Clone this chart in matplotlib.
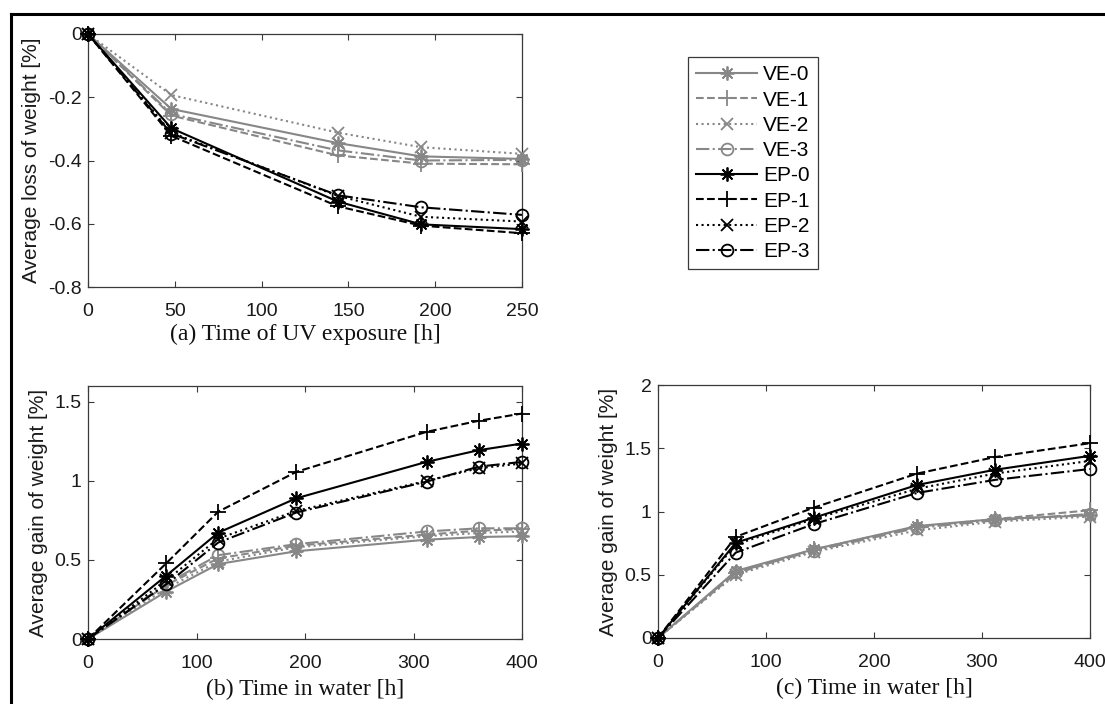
import matplotlib
matplotlib.use('Agg')
import matplotlib.pyplot as plt
from matplotlib.lines import Line2D
from matplotlib.ticker import FormatStrFormatter

plt.rcParams['font.family'] = ['Liberation Sans', 'DejaVu Sans']
plt.rcParams['axes.unicode_minus'] = False

names = ['VE-0', 'VE-1', 'VE-2', 'VE-3', 'EP-0', 'EP-1', 'EP-2', 'EP-3']

# (a) UV exposure
t_uv = [0, 48, 144, 192, 250]
loss_uv = {
    'VE-0': [0, -0.237, -0.345, -0.387, -0.395],
    'VE-1': [0, -0.258, -0.384, -0.410, -0.412],
    'VE-2': [0, -0.193, -0.312, -0.358, -0.379],
    'VE-3': [0, -0.253, -0.368, -0.400, -0.398],
    'EP-0': [0, -0.298, -0.530, -0.602, -0.617],
    'EP-1': [0, -0.322, -0.545, -0.606, -0.630],
    'EP-2': [0, -0.312, -0.512, -0.578, -0.593],
    'EP-3': [0, -0.315, -0.510, -0.548, -0.572],
}

# (b) water
t_b = [0, 72, 120, 192, 312, 360, 400]
gain_b = {
    'VE-0': [0, 0.30, 0.474, 0.555, 0.628, 0.645, 0.650],
    'VE-1': [0, 0.34, 0.51, 0.59, 0.66, 0.685, 0.695],
    'VE-2': [0, 0.32, 0.49, 0.58, 0.65, 0.67, 0.68],
    'VE-3': [0, 0.35, 0.53, 0.60, 0.68, 0.70, 0.70],
    'EP-0': [0, 0.40, 0.672, 0.89, 1.12, 1.194, 1.236],
    'EP-1': [0, 0.478, 0.805, 1.057, 1.31, 1.38, 1.426],
    'EP-2': [0, 0.37, 0.635, 0.81, 1.00, 1.08, 1.11],
    'EP-3': [0, 0.345, 0.61, 0.80, 0.995, 1.09, 1.12],
}

# (c) water
t_c = [0, 72, 144, 240, 312, 400]
gain_c = {
    'VE-0': [0, 0.53, 0.70, 0.885, 0.94, 0.97],
    'VE-1': [0, 0.51, 0.70, 0.88, 0.94, 1.01],
    'VE-2': [0, 0.50, 0.68, 0.85, 0.92, 0.96],
    'VE-3': [0, 0.52, 0.69, 0.87, 0.93, 0.98],
    'EP-0': [0, 0.753, 0.95, 1.21, 1.33, 1.44],
    'EP-1': [0, 0.80, 1.03, 1.30, 1.43, 1.54],
    'EP-2': [0, 0.74, 0.94, 1.18, 1.30, 1.40],
    'EP-3': [0, 0.675, 0.90, 1.147, 1.25, 1.336],
}

gray = '#878787'
asterisk = (8, 2, 0)
styles = {
    'VE-0': dict(color=gray, ls='-', marker=asterisk, ms=10),
    'VE-1': dict(color=gray, ls='--', marker='+', ms=11),
    'VE-2': dict(color=gray, ls=':', marker='x', ms=9),
    'VE-3': dict(color=gray, ls='-.', marker='o', ms=8.5, mfc='none'),
    'EP-0': dict(color='k', ls='-', marker=asterisk, ms=10),
    'EP-1': dict(color='k', ls='--', marker='+', ms=11),
    'EP-2': dict(color='k', ls=':', marker='x', ms=9),
    'EP-3': dict(color='k', ls='-.', marker='o', ms=8.5, mfc='none'),
}

W, H = 1105, 704
fig = plt.figure(figsize=(W / 100, H / 100), dpi=100)

ax_a = fig.add_axes([88 / W, 1 - 287 / H, 434 / W, 253 / H])
ax_b = fig.add_axes([88 / W, 1 - 639 / H, 434 / W, 253 / H])
ax_c = fig.add_axes([658 / W, 1 - 638 / H, 432 / W, 253 / H])

panels = [
    (ax_a, t_uv, loss_uv, (0, 250), (-0.8, 0), [0, 50, 100, 150, 200, 250],
     [-0.8, -0.6, -0.4, -0.2, 0], 'Average loss of weight [%]', '(a) Time of UV exposure [h]', 3),
    (ax_b, t_b, gain_b, (0, 400), (0, 1.6), [0, 100, 200, 300, 400],
     [0, 0.5, 1, 1.5], 'Average gain of weight [%]', '(b) Time in water [h]', 5),
    (ax_c, t_c, gain_c, (0, 400), (0, 2), [0, 100, 200, 300, 400],
     [0, 0.5, 1, 1.5, 2], 'Average gain of weight [%]', '(c) Time in water [h]', 5),
]

spine_col = '#3a3a3a'
for ax, x, data, xl, yl, xt, yt, ylab, xlab, lp in panels:
    for n in names:
        s = styles[n]
        ax.plot(x, data[n], label=n, color=s['color'], ls=s['ls'], lw=1.5,
                marker=s['marker'], ms=s['ms'], mew=1.3,
                mfc=s.get('mfc', s['color']), clip_on=False, zorder=3)
    ax.set_xlim(*xl)
    ax.set_ylim(*yl)
    ax.set_xticks(xt)
    ax.set_yticks(yt)
    ax.yaxis.set_major_formatter(FormatStrFormatter('%g'))
    ax.tick_params(direction='in', length=4.5, width=0.8, color=spine_col,
                   labelsize=14, labelcolor='#1a1a1a', top=True, right=True)
    ax.tick_params(axis='x', pad=11.5)
    ax.tick_params(axis='y', pad=4.5)
    for sp in ax.spines.values():
        sp.set_color(spine_col)
        sp.set_linewidth(0.9)
    ax.set_ylabel(ylab, fontsize=15, color='#1a1a1a', labelpad=5)
    ax.set_xlabel(xlab, fontsize=17, family=['Liberation Serif'],
                  color='#111111', labelpad=lp)

handles, labels = ax_a.get_legend_handles_labels()
leg = fig.legend(handles, labels, loc='upper left',
                 bbox_to_anchor=(688 / W, 1 - 57 / H), borderaxespad=0,
                 fontsize=15, handlelength=2.9, handletextpad=0.3,
                 labelspacing=0.3, borderpad=0.4, fancybox=False,
                 framealpha=1, edgecolor=spine_col)
leg.get_frame().set_linewidth(0.9)

# outer frame on top and left
fig.add_artist(Line2D([10.5 / W, 1], [1 - 13.5 / H, 1 - 13.5 / H],
                      color='k', lw=2.2, transform=fig.transFigure))
fig.add_artist(Line2D([10.5 / W, 10.5 / W], [0, 1 - 13.5 / H],
                      color='k', lw=2.2, transform=fig.transFigure))

fig.savefig('out.png', dpi=100)
